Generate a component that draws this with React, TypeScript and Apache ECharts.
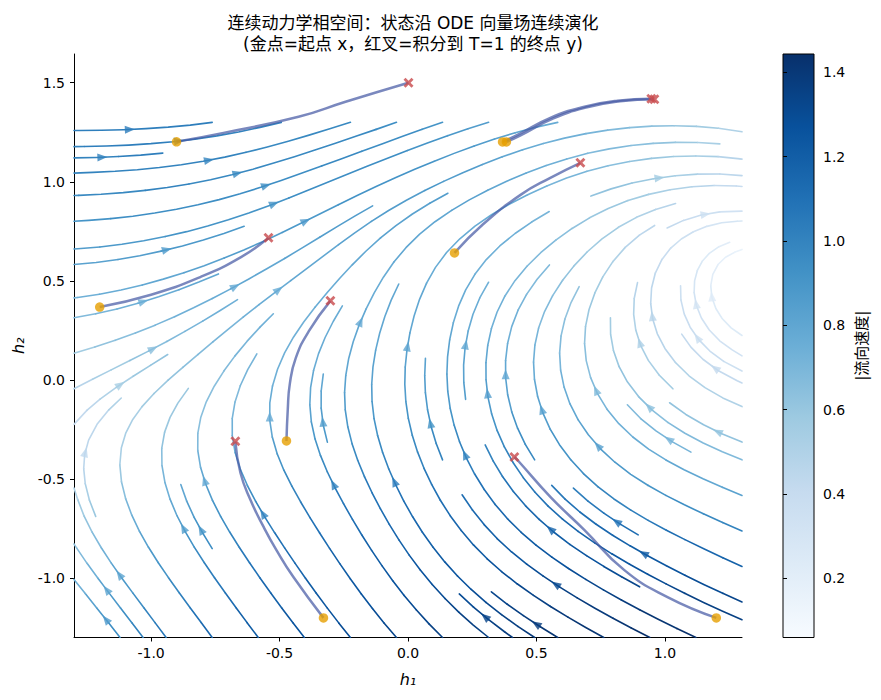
import React, { useEffect, useRef } from "react";
import * as echarts from "echarts";

// ---- vector field: nodes every 0.5 ----
const GRID_X = [-1.5, -1.0, -0.5, 0.0, 0.5, 1.0, 1.5];
const GRID_Y = [-1.5, -1.0, -0.5, 0.0, 0.5, 1.0, 1.5, 2.0];
// flow direction [dx, dy] at each node, one row per GRID_Y value
const DIR_ROWS = [
  [[-0.6, 0.8], [-0.5, 0.87], [-0.52, 0.85], [-0.6, 0.8], [-0.78, 0.63], [-0.85, 0.52], [-0.9, 0.43]],
  [[-0.55, 0.85], [-0.48, 0.88], [-0.48, 0.88], [-0.51, 0.86], [-0.74, 0.67], [-0.83, 0.56], [-0.88, 0.47]],
  [[-0.1, 1], [-0.15, 1], [-0.36, 0.93], [-0.33, 0.94], [-0.52, 0.85], [-0.82, 0.58], [-0.92, 0.4]],
  [[1, 0.4], [1, 1], [0.2, 1], [0, 1], [-0.1, 1], [-0.6, 0.8], [-1, 0.2]],
  [[1, 0], [1, 0.35], [1, 0.9], [0.4, 1], [0.5, 0.85], [0.15, 1], [0.2, -1]],
  [[1, -0.03], [1, 0.15], [1, 0.45], [1, 0.6], [1, 0.55], [1, 0.2], [1, -0.4]],
  [[1, -0.05], [1, 0.03], [1, 0.25], [1, 0.4], [1, 0.2], [1, -0.05], [1, -0.5]],
  [[1, -0.1], [1, -0.02], [1, 0.15], [1, 0.3], [1, 0.15], [1, -0.1], [1, -0.4]],
];
// |flow speed| at each node
const SPEED_ROWS = [
  [0.8, 1.1, 1.3, 1.4, 1.45, 1.5, 1.45],
  [0.6, 0.92, 1.15, 1.25, 1.3, 1.3, 1.2],
  [0.35, 0.68, 0.95, 1.05, 1.05, 0.85, 0.7],
  [0.4, 0.58, 0.75, 0.85, 0.78, 0.55, 0.35],
  [0.75, 0.8, 0.78, 0.78, 0.68, 0.4, 0.1],
  [0.95, 1.0, 0.95, 0.9, 0.75, 0.55, 0.35],
  [1.05, 1.05, 1.0, 0.95, 0.8, 0.65, 0.5],
  [1.1, 1.1, 1.05, 1.0, 0.85, 0.7, 0.55],
];

// ---- start points (gold) and end points (red X) ----
const START_X = [-0.901, -1.2, -0.473, -0.329, 0.181, 0.368, 0.383, 1.2];
const START_Y = [1.202, 0.368, -0.308, -1.201, 0.641, 1.201, 1.201, -1.201];
const END_X = [0.002, -0.543, -0.302, -0.672, 0.671, 0.947, 0.959, 0.414];
const END_Y = [1.5, 0.717, 0.399, -0.31, 1.096, 1.419, 1.417, -0.389];

// ---- trajectories ----
const TRAJ_1 = [[-0.901, 1.202], [-0.718, 1.247], [-0.426, 1.328], [-0.243, 1.404], [0.002, 1.5]];
const TRAJ_2 = [[-1.2, 0.368], [-1.0, 0.43], [-0.807, 0.52], [-0.65, 0.62], [-0.543, 0.717]];
const TRAJ_3 = [[-0.473, -0.308], [-0.468, -0.15], [-0.46, -0.02], [-0.437, 0.11], [-0.386, 0.246], [-0.302, 0.399]];
const TRAJ_4 = [[-0.329, -1.201], [-0.446, -0.995], [-0.512, -0.859], [-0.562, -0.742], [-0.613, -0.606], [-0.652, -0.47], [-0.672, -0.31]];
const TRAJ_5 = [[0.181, 0.641], [0.29, 0.783], [0.438, 0.934], [0.554, 1.02], [0.671, 1.096]];
const TRAJ_6 = [[0.368, 1.201], [0.426, 1.237], [0.554, 1.323], [0.687, 1.379], [0.815, 1.409], [0.947, 1.419]];
const TRAJ_7 = [[0.383, 1.201], [0.44, 1.236], [0.566, 1.32], [0.697, 1.376], [0.825, 1.406], [0.959, 1.417]];
const TRAJ_8 = [[1.2, -1.201], [1.01, -1.096], [0.842, -0.96], [0.687, -0.758], [0.554, -0.59], [0.426, -0.404], [0.414, -0.389]];
const TRAJS = [TRAJ_1, TRAJ_2, TRAJ_3, TRAJ_4, TRAJ_5, TRAJ_6, TRAJ_7, TRAJ_8];

// ---- ticks ----
const X_TICKS = [-1.0, -0.5, 0.0, 0.5, 1.0];
const Y_TICKS = [-1.0, -0.5, 0.0, 0.5, 1.0, 1.5];
const CB_TICKS = [0.2, 0.4, 0.6, 0.8, 1.0, 1.2, 1.4];

const X_MIN = -1.3, X_MAX = 1.3, Y_MIN = -1.3, Y_MAX = 1.645;
const SP_MIN = 0.06, SP_MAX = 1.443;
const DOM_MIN = -1.3, DOM_SPAN = 2.6; // streamplot domain

const BLUES = ["#f7fbff", "#deebf7", "#c6dbef", "#9ecae1", "#6baed6", "#4292c6", "#2171b5", "#08519c", "#08306b"];
const BLUES_RGB = BLUES.map((h) => [parseInt(h.slice(1, 3), 16), parseInt(h.slice(3, 5), 16), parseInt(h.slice(5, 7), 16)]);
function blues(t: number): string {
  t = Math.max(0, Math.min(1, t));
  const p = t * 8;
  const i = Math.min(7, Math.floor(p));
  const f = p - i;
  const a = BLUES_RGB[i], b = BLUES_RGB[i + 1];
  return `rgb(${Math.round(a[0] + (b[0] - a[0]) * f)},${Math.round(a[1] + (b[1] - a[1]) * f)},${Math.round(a[2] + (b[2] - a[2]) * f)})`;
}

const UG = DIR_ROWS.map((row, j) => row.map((d, i) => (SPEED_ROWS[j][i] * d[0]) / Math.hypot(d[0], d[1])));
const VG = DIR_ROWS.map((row, j) => row.map((d, i) => (SPEED_ROWS[j][i] * d[1]) / Math.hypot(d[0], d[1])));

function cr(p0: number, p1: number, p2: number, p3: number, t: number) {
  return 0.5 * (2 * p1 + (-p0 + p2) * t + (2 * p0 - 5 * p1 + 4 * p2 - p3) * t * t + (-p0 + 3 * p1 - 3 * p2 + p3) * t * t * t);
}
function sample(G: number[][], x: number, y: number) {
  const nx = GRID_X.length, ny = GRID_Y.length;
  const fx = (x - GRID_X[0]) / (GRID_X[1] - GRID_X[0]);
  const fy = (y - GRID_Y[0]) / (GRID_Y[1] - GRID_Y[0]);
  const i = Math.max(0, Math.min(nx - 2, Math.floor(fx)));
  const j = Math.max(0, Math.min(ny - 2, Math.floor(fy)));
  const t = fx - i, u = fy - j;
  const ci = (k: number) => Math.max(0, Math.min(nx - 1, k));
  const cj = (k: number) => Math.max(0, Math.min(ny - 1, k));
  const rows: number[] = [];
  for (let m = -1; m <= 2; m++) {
    const r = G[cj(j + m)];
    rows.push(cr(r[ci(i - 1)], r[ci(i)], r[ci(i + 1)], r[ci(i + 2)], t));
  }
  return cr(rows[0], rows[1], rows[2], rows[3], u);
}
function field(x: number, y: number): [number, number] {
  return [sample(UG, x, y), sample(VG, x, y)];
}

// ---- matplotlib-like streamplot (density 1) ----
function computeStreamlines() {
  const NM = 30;
  const mask = new Uint8Array(NM * NM);
  let traj: number[] = [];
  let cur: number[] | null = null;
  const g2m = (a: number) => Math.floor(a * (NM - 1) + 0.5);
  const within = (a: number, b: number) => a >= 0 && a <= 1 && b >= 0 && b <= 1;
  const update = (ax: number, ay: number) => {
    if (!within(ax, ay)) return false;
    const xm = g2m(ax), ym = g2m(ay);
    if (cur && cur[0] === xm && cur[1] === ym) return true;
    if (mask[ym * NM + xm]) return false;
    mask[ym * NM + xm] = 1;
    traj.push(ym * NM + xm);
    cur = [xm, ym];
    return true;
  };
  const f = (ax: number, ay: number, sgn: number): [number, number] | null => {
    if (!within(ax, ay)) return null;
    const [u, v] = field(DOM_MIN + ax * DOM_SPAN, DOM_MIN + ay * DOM_SPAN);
    const s = Math.hypot(u, v) || 1e-9;
    return [(sgn * u) / s, (sgn * v) / s];
  };
  const rk12 = (x0: number, y0: number, sgn: number) => {
    const maxerror = 0.003, maxds = 1 / NM, maxlength = 4;
    let ds = maxds, stotal = 0, xi = x0, yi = y0;
    const pts: number[][] = [];
    for (let guard = 0; guard < 5000; guard++) {
      pts.push([xi, yi]);
      const k1 = f(xi, yi, sgn);
      if (!k1) break;
      const k2 = f(xi + ds * k1[0], yi + ds * k1[1], sgn);
      if (!k2) {
        const cx = k1[0], cy = k1[1];
        const dsx = cx === 0 ? Infinity : cx < 0 ? xi / -cx : (1 - xi) / cx;
        const dsy = cy === 0 ? Infinity : cy < 0 ? yi / -cy : (1 - yi) / cy;
        const d = Math.min(dsx, dsy);
        pts.push([xi + cx * d, yi + cy * d]);
        stotal += d;
        break;
      }
      const dx1 = ds * k1[0], dy1 = ds * k1[1];
      const dx2 = ds * 0.5 * (k1[0] + k2[0]), dy2 = ds * 0.5 * (k1[1] + k2[1]);
      const err = Math.hypot(dx2 - dx1, dy2 - dy1);
      if (err < maxerror) {
        xi += dx2; yi += dy2;
        if (!update(xi, yi)) break;
        if (stotal + ds > maxlength) break;
        stotal += ds;
      } else {
        pts.pop();
      }
      ds = err === 0 ? maxds : Math.min(maxds, 0.85 * ds * Math.sqrt(maxerror / err));
    }
    return { s: stotal, pts };
  };
  // spiral seeds
  const seeds: number[][] = [];
  {
    let xfirst = 0, yfirst = 1, xlast = NM - 1, ylast = NM - 1, x = 0, y = 0;
    let dir = "right";
    for (let k = 0; k < NM * NM; k++) {
      seeds.push([x, y]);
      if (dir === "right") { x += 1; if (x >= xlast) { xlast -= 1; dir = "up"; } }
      else if (dir === "up") { y += 1; if (y >= ylast) { ylast -= 1; dir = "left"; } }
      else if (dir === "left") { x -= 1; if (x <= xfirst) { xfirst += 1; dir = "down"; } }
      else { y -= 1; if (y <= yfirst) { yfirst += 1; dir = "right"; } }
    }
  }
  const out: number[][][] = [];
  for (const [xm, ym] of seeds) {
    if (mask[ym * NM + xm]) continue;
    const ax = xm / (NM - 1), ay = ym / (NM - 1);
    traj = [];
    cur = null;
    update(ax, ay);
    const b = rk12(ax, ay, -1);
    cur = [g2m(ax), g2m(ay)];
    const fw = rk12(ax, ay, 1);
    if (b.s + fw.s > 0.1) {
      const pts = b.pts.slice().reverse().concat(fw.pts.slice(1));
      out.push(pts.map((p) => [DOM_MIN + p[0] * DOM_SPAN, DOM_MIN + p[1] * DOM_SPAN]));
    } else {
      for (const c of traj) mask[c] = 0;
    }
  }
  return out;
}

const PX_X = 668 / (X_MAX - X_MIN);
const PX_Y = 583.5 / (Y_MAX - Y_MIN);
const FONT = "'DejaVu Sans', 'Noto Sans CJK SC', sans-serif";

function buildOption() {
  const lines = computeStreamlines();
  const lineData: any[] = [];
  const arrowData: any[] = [];
  const LEVELS = 48;
  const norm = (s: number) => (s - SP_MIN) / (SP_MAX - SP_MIN);
  for (const pts of lines) {
    if (pts.length < 2) continue;
    const sp = pts.map((p) => Math.hypot(...field(p[0], p[1])));
    const segC = [];
    for (let k = 0; k < pts.length - 1; k++) segC.push((sp[k] + sp[k + 1]) / 2);
    let chunk = [pts[0]];
    let q = Math.round(norm(segC[0]) * (LEVELS - 1));
    for (let k = 0; k < segC.length; k++) {
      const qk = Math.round(norm(segC[k]) * (LEVELS - 1));
      if (qk !== q) {
        if (chunk.length > 1) lineData.push({ coords: chunk, lineStyle: { color: blues(q / (LEVELS - 1)) } });
        chunk = [pts[k]];
        q = qk;
      }
      chunk.push(pts[k + 1]);
    }
    if (chunk.length > 1) lineData.push({ coords: chunk, lineStyle: { color: blues(q / (LEVELS - 1)) } });
    // arrow at mid length
    const cum: number[] = [];
    let s = 0;
    for (let k = 0; k < pts.length - 1; k++) {
      s += Math.hypot(pts[k + 1][0] - pts[k][0], pts[k + 1][1] - pts[k][1]);
      cum.push(s);
    }
    let n = 0;
    while (n < cum.length - 1 && cum[n] < s / 2) n++;
    const tail = pts[n];
    const nxt = pts[Math.min(n + 1, pts.length - 1)];
    const head = [(tail[0] + nxt[0]) / 2, (tail[1] + nxt[1]) / 2];
    const dxp = (nxt[0] - tail[0]) * PX_X, dyp = (nxt[1] - tail[1]) * PX_Y;
    const L = Math.hypot(dxp, dyp) || 1;
    const ux = dxp / L, uy = dyp / L;
    const ang = (Math.atan2(uy, ux) * 180) / Math.PI;
    const half = 5;
    arrowData.push({
      value: [head[0] - (ux * half) / PX_X, head[1] - (uy * half) / PX_Y],
      symbolRotate: ang - 90,
      itemStyle: { color: blues(norm(segC[Math.min(n, segC.length - 1)])) },
    });
  }

  const fmt = (v: number) => (Math.abs(v) < 1e-9 ? 0 : v).toFixed(1);
  const trajSeries = TRAJS.map((t) => ({
    type: "line",
    xAxisIndex: 0,
    yAxisIndex: 0,
    data: t,
    smooth: 0.5,
    showSymbol: false,
    symbol: "none",
    silent: true,
    z: 4,
    lineStyle: { color: "rgba(70,90,165,0.72)", width: 2.5 },
  }));

  const cbGradient = new echarts.graphic.LinearGradient(
    0, 0, 0, 1,
    BLUES.slice().reverse().map((c, i) => ({ offset: i / 8, color: c }))
  );

  return {
    animation: false,
    backgroundColor: "#ffffff",
    title: {
      text: "连续动力学相空间：状态沿 ODE 向量场连续演化\n(金点=起点 x，红叉=积分到 T=1 的终点 y)",
      left: 408,
      top: 7,
      textAlign: "center",
      textStyle: { fontSize: 17, fontWeight: "normal", color: "#000", lineHeight: 21, fontFamily: FONT },
    },
    grid: [
      { left: 74, top: 54, width: 668, height: 583.5 },
      { left: 783, top: 54, width: 31, height: 583.5, show: true, backgroundColor: cbGradient, borderColor: "#000", borderWidth: 1 },
    ],
    xAxis: [
      {
        gridIndex: 0, type: "value", min: X_MIN, max: X_MAX,
        axisLine: { show: true, onZero: false, lineStyle: { color: "#000", width: 1 } },
        axisTick: { show: true, inside: false, length: 4, customValues: X_TICKS, lineStyle: { color: "#000" } },
        axisLabel: { customValues: X_TICKS, formatter: fmt, color: "#000", fontSize: 14, margin: 8, fontFamily: FONT },
        splitLine: { show: false },
        name: "h₁", nameLocation: "middle", nameGap: 34,
        nameTextStyle: { fontSize: 16, fontStyle: "italic", color: "#000", fontFamily: FONT },
      },
      { gridIndex: 1, type: "value", min: 0, max: 1, show: false },
    ],
    yAxis: [
      {
        gridIndex: 0, type: "value", min: Y_MIN, max: Y_MAX,
        axisLine: { show: true, onZero: false, lineStyle: { color: "#000", width: 1 } },
        axisTick: { show: true, inside: false, length: 4, customValues: Y_TICKS, lineStyle: { color: "#000" } },
        axisLabel: { customValues: Y_TICKS, formatter: fmt, color: "#000", fontSize: 14, margin: 9, fontFamily: FONT },
        splitLine: { show: false },
        name: "h₂", nameLocation: "middle", nameGap: 44, nameRotate: 90,
        nameTextStyle: { fontSize: 16, fontStyle: "italic", color: "#000", fontFamily: FONT },
      },
      {
        gridIndex: 1, type: "value", position: "right", min: SP_MIN, max: SP_MAX,
        axisLine: { show: false },
        axisTick: { show: true, inside: false, length: 4, customValues: CB_TICKS, lineStyle: { color: "#000" } },
        axisLabel: { customValues: CB_TICKS, formatter: fmt, color: "#000", fontSize: 14, margin: 9, fontFamily: FONT },
        splitLine: { show: false },
        name: "|流向速度|", nameLocation: "middle", nameGap: 40, nameRotate: 90,
        nameTextStyle: { fontSize: 15, color: "#000", fontFamily: FONT },
      },
    ],
    series: [
      {
        type: "lines",
        coordinateSystem: "cartesian2d",
        xAxisIndex: 0,
        yAxisIndex: 0,
        polyline: true,
        silent: true,
        z: 2,
        lineStyle: { width: 1.6, opacity: 1, cap: "round", join: "round" },
        data: lineData,
      },
      {
        type: "scatter",
        xAxisIndex: 0,
        yAxisIndex: 0,
        symbol: "path://M5,0 L10,12 L0,12 Z",
        symbolSize: [8, 10],
        silent: true,
        z: 3,
        data: arrowData,
      },
      ...trajSeries,
      {
        type: "scatter",
        xAxisIndex: 0,
        yAxisIndex: 0,
        symbol: "circle",
        symbolSize: 9.5,
        silent: true,
        z: 5,
        itemStyle: { color: "#e69f00" },
        data: START_X.map((x, i) => [x, START_Y[i]]),
      },
      {
        type: "scatter",
        xAxisIndex: 0,
        yAxisIndex: 0,
        symbol: "path://M2,0 L5,3 L8,0 L10,2 L7,5 L10,8 L8,10 L5,7 L2,10 L0,8 L3,5 L0,2 Z",
        symbolSize: 10,
        silent: true,
        z: 5,
        itemStyle: { color: "#c8484b" },
        data: END_X.map((x, i) => [x, END_Y[i]]),
      },
    ],
  };
}

export default function App() {
  const ref = useRef<HTMLDivElement>(null);
  useEffect(() => {
    if (!ref.current) return;
    const chart = echarts.init(ref.current, undefined, { renderer: "svg" });
    chart.setOption(buildOption() as any);
    return () => chart.dispose();
  }, []);
  return <div ref={ref} style={{ width: 881, height: 700, margin: -8 }} />;
}
